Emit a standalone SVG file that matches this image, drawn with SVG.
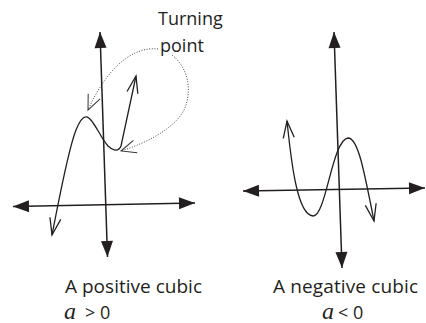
<svg xmlns="http://www.w3.org/2000/svg" width="426" height="323" viewBox="0 0 426 323">
<style>
.axis{stroke:#231f20;stroke-width:1.5;fill:none;marker-end:url(#solid);marker-start:url(#solid)}
.curve{stroke:#231f20;stroke-width:1.3;fill:none;stroke-linejoin:round}
.dots{stroke:#444;stroke-width:1;fill:none;stroke-dasharray:1 1.6;marker-end:url(#thin)}
.lbl{font-family:"Open Sans","Liberation Sans",sans-serif;font-size:19px;fill:#231f20}
.sm{font-family:"Open Sans","Liberation Sans",sans-serif;font-size:18px;fill:#231f20}
.note{font-family:"Open Sans","Liberation Sans",sans-serif;font-size:18px;fill:#231f20}
.var{font-family:"Liberation Serif","DejaVu Serif",serif;font-style:italic;font-size:24px;fill:#231f20}
</style>
<defs>
<marker id="solid" markerUnits="userSpaceOnUse" viewBox="-17 -7 18 14" refX="0" refY="0" markerWidth="18" markerHeight="14" orient="auto-start-reverse" overflow="visible">
<path d="M-16,-6 L0,0 L-16,6 Z" fill="#231f20"/>
</marker>
<marker id="open" markerUnits="userSpaceOnUse" viewBox="-18 -7 19 14" refX="0" refY="0" markerWidth="19" markerHeight="14" orient="auto-start-reverse" overflow="visible">
<path d="M-17,-5.5 L0,0 L-17,5.5" fill="none" stroke="#231f20" stroke-width="1.3"/>
</marker>
<marker id="thin" markerUnits="userSpaceOnUse" viewBox="-16 -8 17 16" refX="0" refY="0" markerWidth="17" markerHeight="16" orient="auto" overflow="visible">
<path d="M-15,-6.5 L0,0 L-15,6.5" fill="none" stroke="#333" stroke-width="1"/>
</marker>
</defs>

<g id="connectors">
<path class="dots" d="M158,49 C130,46 105,72 88,110"/>
<path class="dots" d="M172,55 C186,66 192,85 186,105 C180,125 150,142 121,151"/>
</g>

<g id="positive-graph">
<line class="axis" x1="13" y1="206.5" x2="195" y2="203"/>
<line class="axis" x1="100" y1="32" x2="107.5" y2="257"/>
<path class="curve" d="M52,235 C60,195 68,150 76,130 C80,120 84,116 87,117 C93,118 100,137 108,146 C112,150 118,153 121,146 L136,76" marker-start="url(#open)" marker-end="url(#open)"/>
</g>

<g id="negative-graph">
<line class="axis" x1="243" y1="191" x2="425" y2="188"/>
<line class="axis" x1="334" y1="32" x2="342" y2="268"/>
<path class="curve" d="M287,121 C291,160 297,215 313,216 C326,217 332,140 348,138 C358,138 364,170 374,221" marker-start="url(#open)" marker-end="url(#open)"/>
</g>

<g id="turning-point-label">
<text class="note" x="158" y="25">Turning</text>
<text class="note" x="160" y="52">point</text>
</g>

<g id="positive-label">
<text class="lbl" x="65" y="293" textLength="137" lengthAdjust="spacing">A positive cubic</text>
<text class="var" x="64" y="319">a</text>
<text class="sm" x="85" y="319">&gt; 0</text>
</g>

<g id="negative-label">
<text class="lbl" x="273" y="293" textLength="145" lengthAdjust="spacing">A negative cubic</text>
<text class="var" x="322" y="319">a</text>
<text class="sm" x="338" y="319">&lt; 0</text>
</g>
</svg>
